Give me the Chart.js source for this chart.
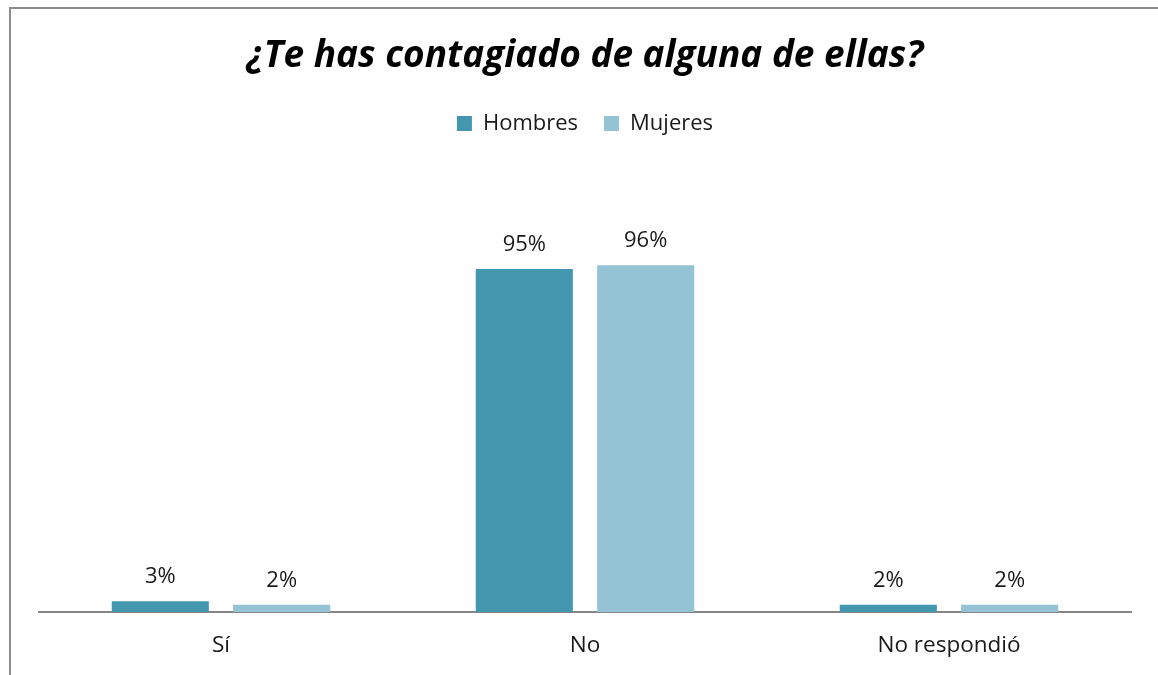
<!DOCTYPE html>
<html>
<head>
<meta charset="utf-8">
<script src="https://cdn.jsdelivr.net/npm/chart.js@4/dist/chart.umd.min.js"></script>
<style>
  html, body { margin: 0; padding: 0; background: #fff; }
  #wrap { width: 1158px; height: 675px; position: relative; }
</style>
</head>
<body>
<div id="wrap"><canvas id="c" width="1158" height="675"></canvas></div>
<script>
/* ==================== DATA ==================== */
const categories = ['Sí', 'No', 'No respondió'];
const hombres = [3, 95, 2];
const mujeres = [2, 96, 2];
const seriesNames = ['Hombres', 'Mujeres'];
const titleText = '¿Te has contagiado de alguna de ellas?';

const FONT = "'Open Sans', sans-serif";

/* ==================== PLUGINS ==================== */
// frame: only left and top edges are visible in the picture
const framePlugin = {
    id: 'frame',
    beforeDraw(chart) {
        const ctx = chart.ctx;
        ctx.save();
        ctx.strokeStyle = '#8c8c8c';
        ctx.lineWidth = 2;
        ctx.beginPath();
        ctx.moveTo(10, 675);
        ctx.lineTo(10, 8);
        ctx.lineTo(1158, 8);
        ctx.stroke();
        ctx.restore();
    }
};

// value labels above each bar
const valueLabels = {
    id: 'valueLabels',
    afterDatasetsDraw(chart) {
        const ctx = chart.ctx;
        ctx.save();
        ctx.font = '22px ' + FONT;
        ctx.fillStyle = '#1a1a1a';
        ctx.textAlign = 'center';
        ctx.textBaseline = 'alphabetic';
        chart.data.datasets.forEach((ds, i) => {
            chart.getDatasetMeta(i).data.forEach((bar, j) => {
                ctx.fillText(ds.data[j] + '%', bar.x, bar.y - 18);
            });
        });
        ctx.restore();
    }
};

/* ==================== CHART ==================== */
new Chart(document.getElementById('c'), {
    type: 'bar',
    data: {
        labels: categories,
        datasets: [
            { label: seriesNames[0], data: hombres, backgroundColor: '#4398b0', categoryPercentage: 0.667, barPercentage: 0.8 },
            { label: seriesNames[1], data: mujeres, backgroundColor: '#93c3d4', categoryPercentage: 0.667, barPercentage: 0.8 },
        ],
    },
    options: {
        responsive: false,
        animation: false,
        layout: { padding: { left: 39, right: 27, top: 0, bottom: 3 } },
        plugins: {
            title: {
                display: true,
                text: titleText,
                color: '#000',
                font: { family: FONT, size: 37, weight: 'bold', style: 'italic' },
                padding: { top: 34, bottom: 8 },
            },
            legend: {
                labels: {
                    color: '#1a1a1a',
                    font: { family: FONT, size: 22 },
                    boxWidth: 15,
                    boxHeight: 15,
                    padding: 26,
                },
            },
            tooltip: { enabled: false },
        },
        scales: {
            x: {
                grid: { display: false, drawTicks: false },
                border: { color: '#868686', width: 2 },
                ticks: { color: '#1a1a1a', font: { family: FONT, size: 22.5 }, padding: 20 },
                afterFit(scale) { scale.height = 60; },
            },
            y: { display: false, min: 0, max: 129.5 },
        },
    },
    plugins: [framePlugin, valueLabels],
});
</script>
</body>
</html>
